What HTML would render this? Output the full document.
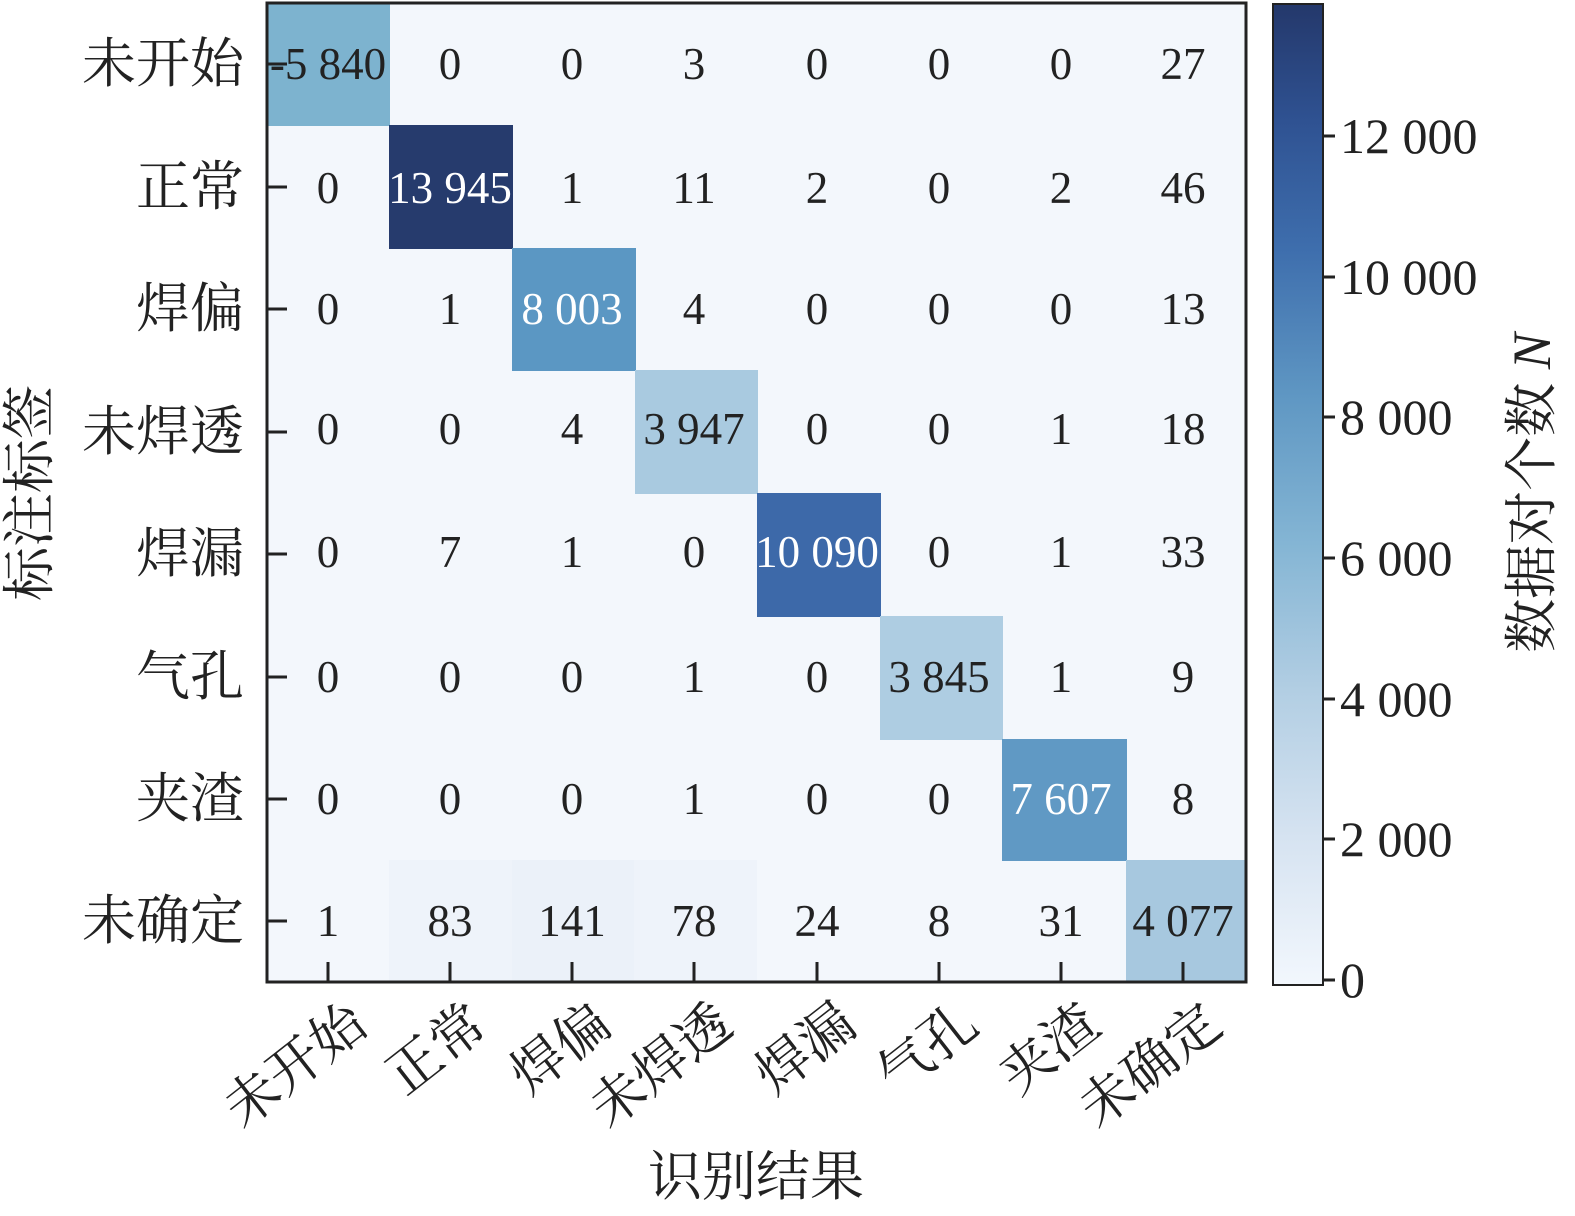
<!DOCTYPE html>
<html><head><meta charset="utf-8"><style>body{margin:0;background:#fff}svg{display:block}</style></head>
<body>
<svg width="1575" height="1216" xmlns="http://www.w3.org/2000/svg">
<defs>
<linearGradient id="cb" x1="0" y1="1" x2="0" y2="0">
<stop offset="0" stop-color="#f2f7fd"/>
<stop offset="0.15" stop-color="#d6e3f1"/>
<stop offset="0.3" stop-color="#b2cee3"/>
<stop offset="0.45" stop-color="#84b5d4"/>
<stop offset="0.6" stop-color="#5f97c3"/>
<stop offset="0.75" stop-color="#3e6ead"/>
<stop offset="0.88" stop-color="#2f5292"/>
<stop offset="1" stop-color="#24386b"/>
</linearGradient>
</defs>
<rect x="267" y="3" width="979" height="979" fill="#f3f7fc"/>
<rect x="389" y="860" width="123" height="122" fill="#eef3fa"/>
<rect x="512" y="860" width="123" height="122" fill="#ebf1f9"/>
<rect x="634" y="860" width="123" height="122" fill="#eef3fa"/>
<rect x="267" y="3" width="123" height="123" fill="#7db3cf"/>
<rect x="389" y="125" width="124" height="124" fill="#263b6d"/>
<rect x="512" y="248" width="124" height="123" fill="#5b97c3"/>
<rect x="635" y="370" width="123" height="124" fill="#a9cae0"/>
<rect x="757" y="493" width="124" height="124" fill="#3d69a9"/>
<rect x="880" y="616" width="123" height="124" fill="#aecde2"/>
<rect x="1002" y="739" width="125" height="122" fill="#6099c4"/>
<rect x="1126" y="860" width="120" height="122" fill="#a7c8df"/>
<rect x="267" y="3" width="979" height="979" fill="none" stroke="#222" stroke-width="3"/>
<g font-family="Liberation Serif, serif" font-size="45" text-anchor="middle" fill="#222">
<text x="328" y="79">-5 840</text><text x="450" y="79">0</text><text x="572" y="79">0</text><text x="694" y="79">3</text><text x="817" y="79">0</text><text x="939" y="79">0</text><text x="1061" y="79">0</text><text x="1183" y="79">27</text>
<text x="328" y="203">0</text><text x="450" y="203" fill="#fff">13 945</text><text x="572" y="203">1</text><text x="694" y="203">11</text><text x="817" y="203">2</text><text x="939" y="203">0</text><text x="1061" y="203">2</text><text x="1183" y="203">46</text>
<text x="328" y="324">0</text><text x="450" y="324">1</text><text x="572" y="324" fill="#fff">8 003</text><text x="694" y="324">4</text><text x="817" y="324">0</text><text x="939" y="324">0</text><text x="1061" y="324">0</text><text x="1183" y="324">13</text>
<text x="328" y="444">0</text><text x="450" y="444">0</text><text x="572" y="444">4</text><text x="694" y="444">3 947</text><text x="817" y="444">0</text><text x="939" y="444">0</text><text x="1061" y="444">1</text><text x="1183" y="444">18</text>
<text x="328" y="567">0</text><text x="450" y="567">7</text><text x="572" y="567">1</text><text x="694" y="567">0</text><text x="817" y="567" fill="#fff">10 090</text><text x="939" y="567">0</text><text x="1061" y="567">1</text><text x="1183" y="567">33</text>
<text x="328" y="692">0</text><text x="450" y="692">0</text><text x="572" y="692">0</text><text x="694" y="692">1</text><text x="817" y="692">0</text><text x="939" y="692">3 845</text><text x="1061" y="692">1</text><text x="1183" y="692">9</text>
<text x="328" y="814">0</text><text x="450" y="814">0</text><text x="572" y="814">0</text><text x="694" y="814">1</text><text x="817" y="814">0</text><text x="939" y="814">0</text><text x="1061" y="814" fill="#fff">7 607</text><text x="1183" y="814">8</text>
<text x="328" y="936">1</text><text x="450" y="936">83</text><text x="572" y="936">141</text><text x="694" y="936">78</text><text x="817" y="936">24</text><text x="939" y="936">8</text><text x="1061" y="936">31</text><text x="1183" y="936">4 077</text>
</g>
<g stroke="#222" stroke-width="3">
<line x1="267" y1="64" x2="287" y2="64"/><line x1="267" y1="187" x2="287" y2="187"/><line x1="267" y1="309" x2="287" y2="309"/><line x1="267" y1="432" x2="287" y2="432"/><line x1="267" y1="554" x2="287" y2="554"/><line x1="267" y1="677" x2="287" y2="677"/><line x1="267" y1="799" x2="287" y2="799"/><line x1="267" y1="921" x2="287" y2="921"/>
<line x1="328" y1="962" x2="328" y2="982"/><line x1="450" y1="962" x2="450" y2="982"/><line x1="572" y1="962" x2="572" y2="982"/><line x1="694" y1="962" x2="694" y2="982"/><line x1="817" y1="962" x2="817" y2="982"/><line x1="939" y1="962" x2="939" y2="982"/><line x1="1061" y1="962" x2="1061" y2="982"/><line x1="1183" y1="962" x2="1183" y2="982"/>
</g>
<g font-family="Liberation Serif, 'Noto Serif CJK SC', serif" font-size="54" fill="#222" text-anchor="end">
<text x="244" y="82">未开始</text><text x="244" y="205">正常</text><text x="244" y="327">焊偏</text><text x="244" y="450">未焊透</text><text x="244" y="572">焊漏</text><text x="244" y="695">气孔</text><text x="244" y="817">夹渣</text><text x="244" y="939">未确定</text>
<text transform="translate(370,1030) rotate(-38)">未开始</text>
<text transform="translate(490,1030) rotate(-38)">正常</text>
<text transform="translate(614,1030) rotate(-38)">焊偏</text>
<text transform="translate(736,1030) rotate(-38)">未焊透</text>
<text transform="translate(859,1030) rotate(-38)">焊漏</text>
<text transform="translate(981,1030) rotate(-38)">气孔</text>
<text transform="translate(1103,1030) rotate(-38)">夹渣</text>
<text transform="translate(1225,1030) rotate(-38)">未确定</text>
</g>
<g font-family="Liberation Serif, 'Noto Serif CJK SC', serif" font-size="54" fill="#222" text-anchor="middle">
<text x="756" y="1195">识别结果</text>
<text transform="translate(48,493) rotate(-90)">标注标签</text>
<text transform="translate(1550,493) rotate(-90)">数据对个数 <tspan font-style="italic">N</tspan></text>
</g>
<rect x="1273" y="4" width="50" height="981" fill="url(#cb)" stroke="#222" stroke-width="2"/>
<g stroke="#222" stroke-width="3">
<line x1="1323" y1="980" x2="1335" y2="980"/><line x1="1323" y1="839" x2="1335" y2="839"/><line x1="1323" y1="699" x2="1335" y2="699"/><line x1="1323" y1="558" x2="1335" y2="558"/><line x1="1323" y1="417" x2="1335" y2="417"/><line x1="1323" y1="277" x2="1335" y2="277"/><line x1="1323" y1="136" x2="1335" y2="136"/>
</g>
<g font-family="Liberation Serif, serif" font-size="50" fill="#222">
<text x="1340" y="997">0</text><text x="1340" y="856">2 000</text><text x="1340" y="716">4 000</text><text x="1340" y="575">6 000</text><text x="1340" y="434">8 000</text><text x="1340" y="294">10 000</text><text x="1340" y="153">12 000</text>
</g>
</svg>
</body></html>
